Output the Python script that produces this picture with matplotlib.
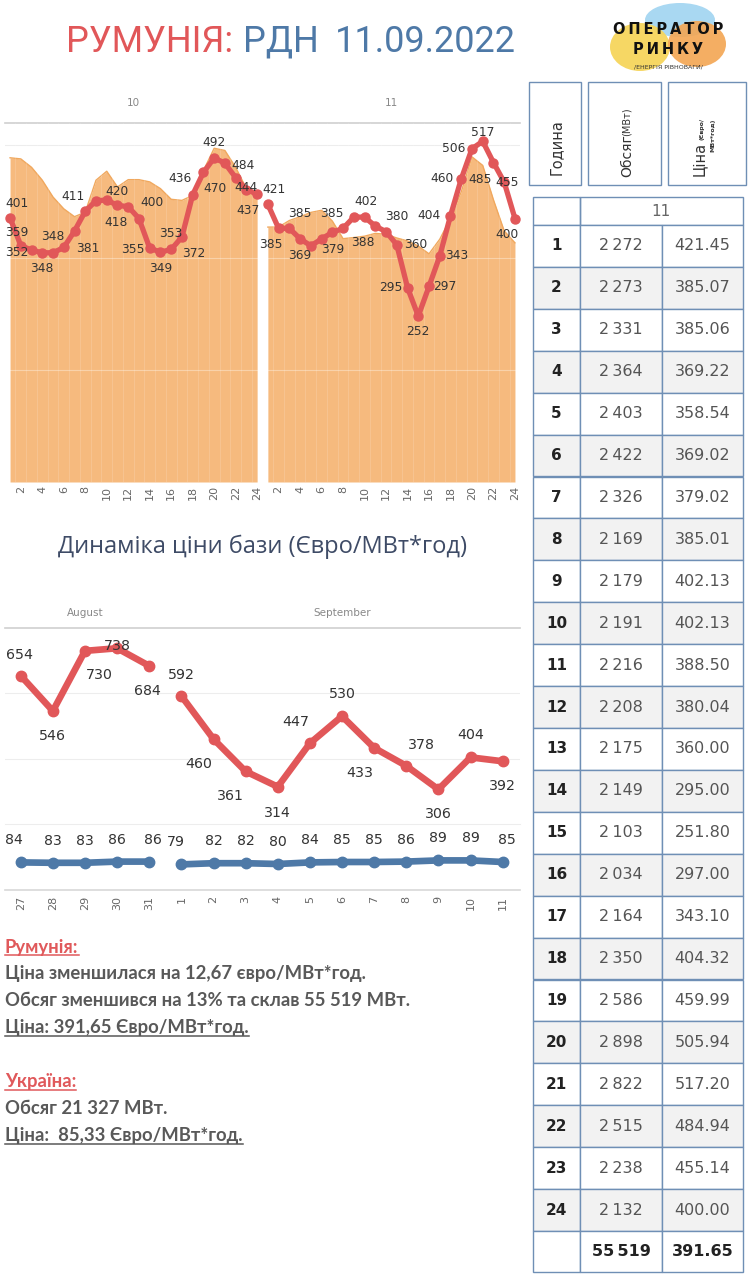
import matplotlib
matplotlib.use('Agg')
import matplotlib.pyplot as plt
from matplotlib.patches import Rectangle, Ellipse
from matplotlib.lines import Line2D
from matplotlib.transforms import IdentityTransform

W, H = 750, 1280

# Дані: ціна та обсяг по годинах (10 та 11 вересня)
hours = list(range(1, 25))
price_d10 = [401, 359, 352, 348, 348, 356, 381, 411, 427, 428, 420, 418,
             400, 355, 349, 353, 372, 436, 470, 492, 484, 462, 444, 437]
volume_d10 = [2890, 2880, 2805, 2690, 2540, 2435, 2365, 2405, 2690, 2770, 2630, 2695,
              2695, 2675, 2615, 2520, 2510, 2555, 2775, 2975, 2955, 2805, 2615, 2555]
volume_d11 = [2272, 2273, 2331, 2364, 2403, 2422, 2326, 2169, 2179, 2191, 2216, 2208,
              2175, 2149, 2103, 2034, 2164, 2350, 2586, 2898, 2822, 2515, 2238, 2132]
price_d11 = [421.45, 385.07, 385.06, 369.22, 358.54, 369.02, 379.02, 385.01, 402.13, 402.13,
             388.50, 380.04, 360.00, 295.00, 251.80, 297.00, 343.10, 404.32, 459.99, 505.94,
             517.20, 484.94, 455.14, 400.00]
total_volume = 55519
avg_price = 391.65

# Динаміка ціни бази
dates = ['27', '28', '29', '30', '31', '1', '2', '3', '4', '5', '6', '7', '8', '9', '10', '11']
months = ['August'] * 5 + ['September'] * 11
base_price = [654, 546, 730, 738, 684, 592, 460, 361, 314, 447, 530, 433, 378, 306, 404, 392]
ua_price = [84, 83, 83, 86, 86, 79, 82, 82, 80, 84, 85, 85, 86, 89, 89, 85]

# Зсуви підписів (пікселі, y вниз)
off_d10 = [(7, -14), (-4, -13), (-15, 2), (0, 16), (0, -16), None, (13, 17), (-12, -15), None, None,
           (0, -14), (-12, 16), (13, -16), (-17, 1), (0, 16), (0, -16), (12, 17), (-13, -16),
           (12, 16), (0, -15), (18, 2), None, (0, -2), (-9, 16)]
off_d11 = [(6, -15), (-8, 16), (11, -15), (0, 17), None, None, (0, 17), (-11, -15), (12, -16), None,
           (-12, 16), (11, -15), (19, 0), (-17, 0), (0, 15), (16, 0), (17, 0), (-21, 0),
           (-19, 0), (-18, 0), (0, -9), (-13, 17), (3, 0), (-8, 16)]
off_base = [(-1, -21), (0, 25), (14, 24), (0, -2), (-2, 25), (0, -21), (-15, 25), (-15, 25),
            (0, 26), (-14, -21), (0, -22), (-14, 25), (15, -21), (0, 25), (0, -22), (0, 25)]
off_ua = [(-7, -22), (0, -22), (0, -22), (0, -22), (4, -22), (-6, -22)] + [(0, -22)] * 9 + [(4, -22)]

RED = '#E15759'
BLUE = '#4E79A7'
AREA = '#F6BA7E'
AREA_EDGE = '#F0A85E'
GREY = '#666666'


def px_box(x0, y0, x1, y1):
    return [x0 / W, 1 - y1 / H, (x1 - x0) / W, (y1 - y0) / H]


def fx(x):
    return x / W


def fy(y):
    return 1 - y / H


fig = plt.figure(figsize=(7.5, 12.8), dpi=100)
fig.patch.set_facecolor('white')
renderer = fig.canvas.get_renderer()

# Заголовок: три частини, розставлені між x=62 та x=520
title_parts = [('РУМУНІЯ:', RED), ('РДН', BLUE), ('11.09.2022', BLUE)]
gaps = [10, 17]
tparts = [fig.text(0, fy(52), s, color=c, fontsize=26, family=['Roboto', 'DejaVu Sans'],
                   va='baseline') for s, c in title_parts]
widths = [t.get_window_extent(renderer).width for t in tparts]
total = sum(widths) + sum(gaps)
x = 291 - total / 2
for t, w, g in zip(tparts, widths, gaps + [0]):
    t.set_x(fx(x))
    x += w + g

# Логотип
lg = fig.add_axes(px_box(600, 0, 750, 75))
lg.set_xlim(600, 750)
lg.set_ylim(75, 0)
lg.axis('off')
lg.add_patch(Ellipse((680, 20), 70, 34, color='#A9D8F2', lw=0))
lg.add_patch(Ellipse((640, 47), 60, 48, color='#F6D55C', lw=0, alpha=0.95))
lg.add_patch(Ellipse((697, 44), 58, 46, color='#F3A552', lw=0, alpha=0.9))
lg.text(668, 29, 'О\u2009П\u2009Е\u2009Р\u2009А\u2009Т\u2009О\u2009Р', fontsize=10.5, weight='bold',
        ha='center', va='center', color='#111111')
lg.text(668, 50, 'Р\u2009И\u2009Н\u2009К\u2009У', fontsize=10.5, weight='bold',
        ha='center', va='center', color='#111111')
lg.text(668, 67, '/ЕНЕРГІЯ РІВНОВАГИ/', fontsize=4.5, ha='center', va='center', color='#333333')

# Верхній графік: обсяг (площа) + ціна (лінія)
x10 = list(range(0, 24))
x11 = list(range(24, 48))
ax = fig.add_axes(px_box(5, 123, 520, 482))
ax.fill_between(x10, volume_d10, color=AREA, lw=0, zorder=1)
ax.fill_between(x11, volume_d11, color=AREA, lw=0, zorder=1)
ax.plot(x10, volume_d10, color=AREA_EDGE, lw=1, zorder=2)
ax.plot(x11, volume_d11, color=AREA_EDGE, lw=1, zorder=2)
for v in (1000, 2000):
    ax.axhline(v, color='white', lw=0.8, alpha=0.35, zorder=3)
ax.axhline(3000, color='#ededed', lw=0.8, zorder=0)
for x in range(48):
    ax.axvline(x + 0.5, color='white', lw=0.5, alpha=0.2, zorder=3)
ax.set_xlim(-0.47, 47.47)
ax.set_ylim(0, 3200)
ticks = [h - 1 for h in hours[1::2]] + [h + 23 for h in hours[1::2]]
ax.set_xticks(ticks)
ax.set_xticklabels([str(h) for h in hours[1::2]] * 2, rotation=90, va='top')
ax.set_yticks([])
ax.tick_params(axis='x', length=0, labelsize=8, labelcolor=GREY, pad=3)
for s in ('left', 'right', 'bottom'):
    ax.spines[s].set_visible(False)
ax.spines['top'].set_color('#cfcfcf')
ax.spines['top'].set_linewidth(1.2)

ax2 = ax.twinx()
ax2.set_ylim(0, 545)
ax2.set_yticks([])
for s in ax2.spines.values():
    s.set_visible(False)
for xs, ys, offs in ((x10, price_d10, off_d10), (x11, price_d11, off_d11)):
    ax2.plot(xs, ys, color=RED, lw=3.8, marker='o', ms=6.5, solid_capstyle='round', zorder=5)
    for x, y, o in zip(xs, ys, offs):
        if o is None:
            continue
        ax2.annotate(f'{y:.0f}', (x, y), xytext=(o[0], -o[1]), textcoords='offset pixels',
                     ha='center', va='center', fontsize=8.8, color='#333333', zorder=6)

fig.text(fx(133), fy(103), '10', fontsize=7.5, color='#888888', ha='center', va='center')
fig.text(fx(391), fy(103), '11', fontsize=7.5, color='#888888', ha='center', va='center')

# Підзаголовок
fig.text(fx(262), fy(547), 'Динаміка ціни бази (Євро/МВт*год)', fontsize=17,
         color='#3E4B66', ha='center', va='center', family=['Open Sans', 'DejaVu Sans'])

# Нижній графік
xs = list(range(len(dates)))
axr = fig.add_axes(px_box(5, 628, 520, 824))
axr.set_xlim(-0.49, 15.54)
axr.set_ylim(200, 800)
for v in (400, 600):
    axr.axhline(v, color='#ededed', lw=0.8, zorder=0)
axr.set_xticks([])
axr.set_yticks([])
for s in ('left', 'right'):
    axr.spines[s].set_visible(False)
axr.spines['top'].set_color('#cfcfcf')
axr.spines['top'].set_linewidth(1.2)
axr.spines['bottom'].set_color('#ededed')

axu = fig.add_axes(px_box(5, 824, 520, 890))
axu.set_xlim(-0.49, 15.54)
axu.set_ylim(15, 180)
axu.set_yticks([])
axu.set_xticks(xs)
axu.set_xticklabels(dates, rotation=90, va='top')
axu.tick_params(axis='x', length=0, labelsize=8, labelcolor=GREY, pad=4)
for s in ('left', 'right', 'top'):
    axu.spines[s].set_visible(False)
axu.spines['bottom'].set_color('#d8d8d8')
axu.spines['bottom'].set_linewidth(1.2)
axu.patch.set_alpha(0)

for seg in (slice(0, 5), slice(5, 16)):
    axr.plot(xs[seg], base_price[seg], color=RED, lw=4.8, marker='o', ms=7.5, zorder=5)
    axu.plot(xs[seg], ua_price[seg], color=BLUE, lw=4.8, marker='o', ms=7.5, zorder=5)
for x, y, o in zip(xs, base_price, off_base):
    axr.annotate(str(y), (x, y), xytext=(o[0], -o[1]), textcoords='offset pixels',
                 ha='center', va='center', fontsize=10.2, color='#333333', zorder=6)
for x, y, o in zip(xs, ua_price, off_ua):
    axu.annotate(str(y), (x, y), xytext=(o[0], -o[1]), textcoords='offset pixels',
                 ha='center', va='center', fontsize=10.2, color='#333333', zorder=6)

fig.text(fx(85), fy(613), 'August', fontsize=7.5, color='#888888', ha='center', va='center')
fig.text(fx(342), fy(613), 'September', fontsize=7.5, color='#888888', ha='center', va='center')

# Текстовий блок
TXT = '#595959'
TRED = '#E0595B'
lines = [
    (947, 'Румунія:', TRED, True),
    (973, 'Ціна зменшилася на 12,67 євро/МВт*год.', TXT, False),
    (1000, 'Обсяг зменшився на 13% та склав 55 519 МВт.', TXT, False),
    (1028, 'Ціна: 391,65 Євро/МВт*год.', TXT, True),
    (1082, 'Україна:', TRED, True),
    (1109, 'Обсяг 21 327 МВт.', TXT, False),
    (1136, 'Ціна:  85,33 Євро/МВт*год.', TXT, True),
]
text_objs = []
for y, s, c, ul in lines:
    t = fig.text(fx(5), fy(y), s, fontsize=13.3, weight='bold', color=c, va='center',
                 family=['Lato', 'DejaVu Sans'])
    text_objs.append((t, c, ul))

# Таблиця
tb = fig.add_axes(px_box(525, 75, 750, 1280))
tb.set_xlim(525, 750)
tb.set_ylim(1280, 75)
tb.axis('off')
EDGE = '#6F8FB5'
for x0, x1 in ((529, 581), (588, 661), (668, 746)):
    tb.add_patch(Rectangle((x0, 82), x1 - x0, 103, fill=False, ec=EDGE, lw=1))
tb.text(556, 175, 'Година', rotation=90, rotation_mode='anchor', ha='left', va='center',
        fontsize=10.5, color='#333333')
tb.text(627, 177, 'Обсяг', rotation=90, rotation_mode='anchor', ha='left', va='center',
        fontsize=10, color='#333333')
tb.text(627, 136, '(МВт)', rotation=90, rotation_mode='anchor', ha='left', va='center',
        fontsize=7, color='#333333')
tb.text(699, 176, 'Ціна', rotation=90, rotation_mode='anchor', ha='left', va='center',
        fontsize=10.5, color='#333333')
tb.text(702, 140, '(Євро/', rotation=90, rotation_mode='anchor', ha='left', va='center',
        fontsize=4.5, color='#333333', weight='bold')
tb.text(713, 152, 'МВт*год)', rotation=90, rotation_mode='anchor', ha='left', va='center',
        fontsize=4.5, color='#333333', weight='bold')

cols = (533, 580, 662, 743)
tb.add_patch(Rectangle((533, 197), 47, 28, fill=False, ec=EDGE, lw=1))
tb.add_patch(Rectangle((580, 197), 163, 28, fill=False, ec=EDGE, lw=1))
tb.text(661, 211, '11', ha='center', va='center', fontsize=11, color='#666666')

row_h = (1231 - 225) / 24
for i, h in enumerate(hours):
    y0 = 225 + i * row_h
    fc = '#F2F2F2' if h % 2 == 0 else 'white'
    for c0, c1 in zip(cols[:-1], cols[1:]):
        tb.add_patch(Rectangle((c0, y0), c1 - c0, row_h, fc=fc, ec=EDGE, lw=1))
    yc = y0 + row_h / 2
    tb.text(556.5, yc, str(h), ha='center', va='center', fontsize=11, weight='bold', color='#222222')
    tb.text(621, yc, f'{volume_d11[i]:,}'.replace(',', '\u2009'), ha='center', va='center',
            fontsize=11.5, color='#555555')
    tb.text(702.5, yc, f'{price_d11[i]:.2f}', ha='center', va='center', fontsize=11.5, color='#555555')
y0 = 1231
for c0, c1 in zip(cols[:-1], cols[1:]):
    tb.add_patch(Rectangle((c0, y0), c1 - c0, 41, fc='white', ec=EDGE, lw=1))
tb.text(621, y0 + 20.5, f'{total_volume:,}'.replace(',', '\u2009'), ha='center', va='center',
        fontsize=11.5, weight='bold', color='#222222')
tb.text(702.5, y0 + 20.5, f'{avg_price:.2f}', ha='center', va='center',
        fontsize=11.5, weight='bold', color='#222222')

# Підкреслення
fig.canvas.draw()
renderer = fig.canvas.get_renderer()
for t, c, ul in text_objs:
    if ul:
        bb = t.get_window_extent(renderer)
        fig.add_artist(Line2D([bb.x0, bb.x1], [bb.y0 + 1, bb.y0 + 1], color=c, lw=1.1,
                              transform=IdentityTransform()))

fig.savefig('out.png', dpi=100)
